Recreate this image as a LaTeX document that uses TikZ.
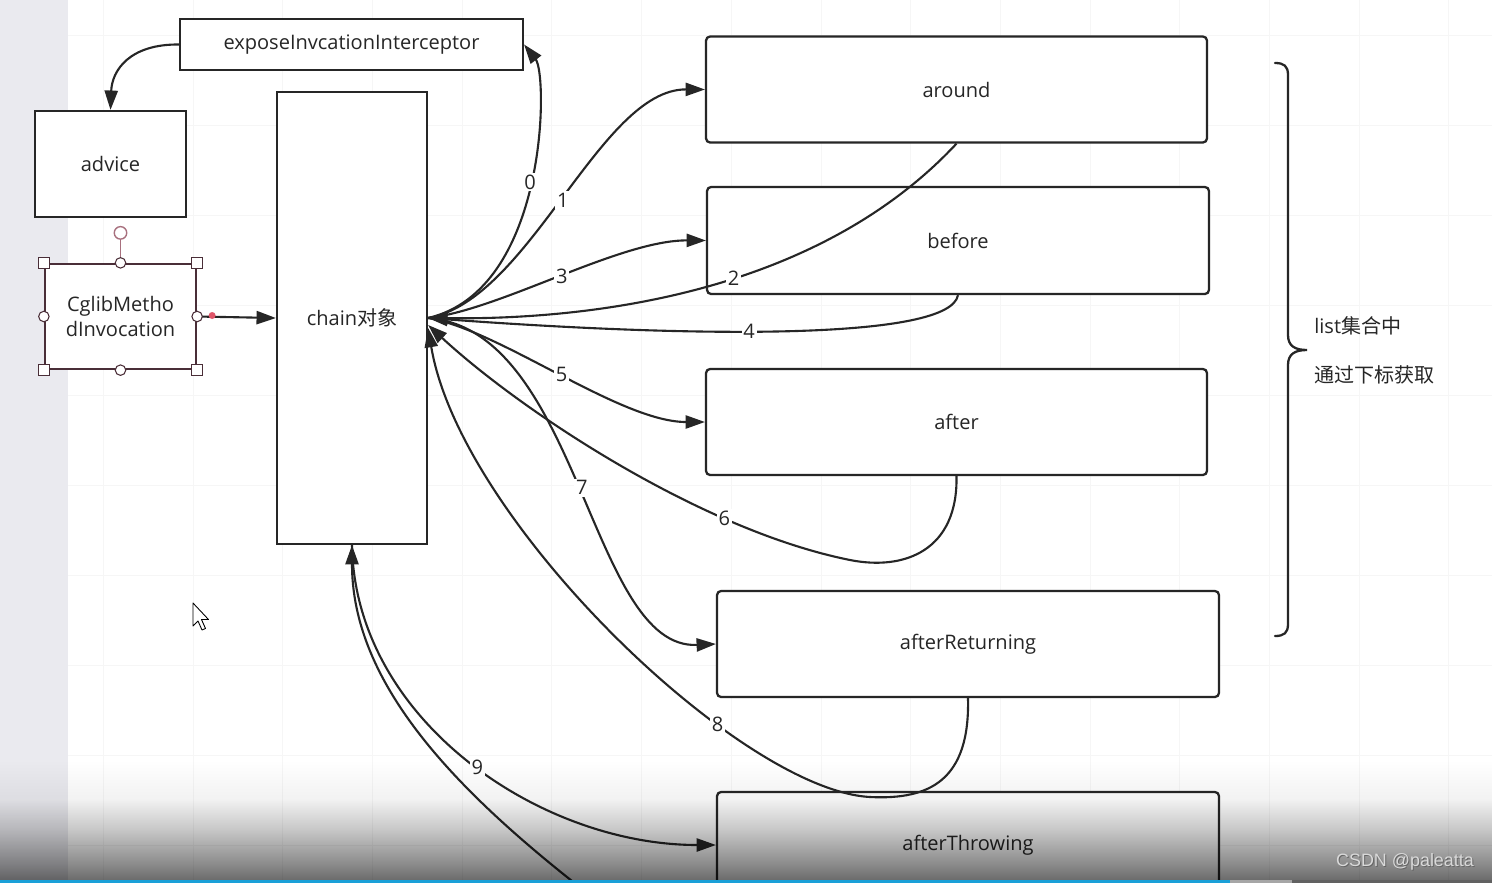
\documentclass[tikz,border=0pt]{standalone}
\usepackage{fontspec}
\setmainfont{Open Sans}
\newfontfamily\cjk{Noto Sans CJK SC}
\newfontfamily\wmfont{Liberation Sans}
\usetikzlibrary{arrows.meta,calc}

\definecolor{ink}{HTML}{262626}
\definecolor{selcol}{HTML}{4A2E38}
\definecolor{rotcol}{HTML}{A8707E}
\definecolor{dotcol}{HTML}{E0566A}
\definecolor{stripcol}{HTML}{EAEAEF}
\definecolor{gridcol}{HTML}{F6F6F6}
\definecolor{barblue}{HTML}{1AA0D8}

% vertical darkening profile (0bp = bottom); the inner 25--75bp band spans the path
\pgfdeclareverticalshading{screenshade}{100bp}{%
  color(0bp)=(black!58!white); color(25bp)=(black!58!white);
  color(31bp)=(black!45!white); color(43bp)=(black!22!white);
  color(54bp)=(black!5!white); color(68bp)=(white); color(100bp)=(white)}

\begin{document}
\begin{tikzpicture}[x=0.02cm,y=-0.02cm,
  font=\fontsize{11.4}{13.7}\selectfont,
  box/.style={draw=ink, line width=1.3pt, fill=white, text=ink, inner sep=0pt},
  rbox/.style={box, rounded corners=0.08cm},
  arr/.style={draw=ink, line width=1.2pt, -{Triangle[length=11pt,width=7.5pt]}},
  num/.style={fill=white, text=ink, inner sep=1pt},
  hsq/.style={draw=selcol, fill=white, line width=0.6pt, minimum size=0.21cm, inner sep=0pt},
  hci/.style={circle, draw=selcol, fill=white, line width=0.6pt, minimum size=0.21cm, inner sep=0pt},
]
\useasboundingbox (0,0) rectangle (1492,883);
\clip (0,0) rectangle (1492,883);

% canvas
\fill[white] (0,0) rectangle (1492,883);
\fill[stripcol] (0,0) rectangle (68,883);
\foreach \k in {0,...,15} \draw[gridcol, line width=0.4pt] ({103.3+\k*89.7},0) -- ++(0,883);
\foreach \k in {0,...,9} \draw[gridcol, line width=0.4pt] (68,{35+\k*90}) -- (1492,{35+\k*90});

% boxes
\node[box, minimum width=6.86cm, minimum height=1.02cm] (exp) at (351.5,44.5) {exposeInvcationInterceptor};
\node[box, minimum width=3.02cm, minimum height=2.12cm] (advice) at (110.5,164) {advice};
\node[box, draw=selcol, minimum width=3.02cm, minimum height=2.1cm, align=center] (cglib) at (120.5,316.5) {CglibMetho\\dInvocation};
\node[box, minimum width=3.0cm, minimum height=9.04cm] (chain) at (352,318) {chain{\cjk 对象}};
\node[rbox, minimum width=10.02cm, minimum height=2.12cm] (around) at (956.5,89.5) {around};
\node[rbox, minimum width=10.04cm, minimum height=2.14cm] (before) at (958,240.5) {before};
\node[rbox, minimum width=10.02cm, minimum height=2.12cm] (after) at (956.5,422) {after};
\node[rbox, minimum width=10.04cm, minimum height=2.12cm] (aret) at (968,644) {afterReturning};
\node[rbox, minimum width=10.04cm, minimum height=2.12cm] (athr) at (968,845) {afterThrowing};

% helper coordinates
\coordinate (c6) at ($(chain.east)+(0,7)$);
\coordinate (c8) at ($(chain.east)+(0,10)$);
\coordinate (offT) at (650,940);

% connectors
\draw[arr] (exp.west) .. controls (130,44) and (112,70) .. (advice.north);
\draw[arr] (cglib.east) -- (chain.west);
\draw[arr] (chain.east) .. controls (548,290) and (548,75) .. (exp.east) node[num,pos=0.5]{0};
\draw[arr] (chain.east) .. controls (530,300) and (600,89) .. (around.west) node[num,pos=0.49]{1};
\draw[arr] (around.south) .. controls (820,290) and (600,320) .. (chain.east) node[num,pos=0.45]{2};
\draw[arr] (chain.east) .. controls (500,310) and (620,240) .. (before.west) node[num,pos=0.5]{3};
\draw[arr] (before.south) .. controls (950,340) and (700,338) .. (chain.east) node[num,pos=0.57]{4};
\draw[arr] (chain.east) .. controls (500,330) and (620,422) .. (after.west) node[num,pos=0.5]{5};
\draw[arr] (after.south) .. controls (958,550) and (905,571) .. (850,560)
  .. controls (700,530) and (520,410) .. (c6) node[num,pos=0.27]{6};
\draw[arr] (chain.east) .. controls (580,330) and (590,650) .. (aret.west) node[num,pos=0.5]{7};
\draw[arr] (aret.south) .. controls (970,780) and (930,800) .. (870,797)
  .. controls (740,790) and (460,520) .. (c8) node[num,pos=0.31]{8};
\draw[arr] (chain.south) .. controls (355,720) and (540,845) .. (athr.west) node[num,pos=0.52]{9};
\draw[arr] (offT) .. controls (485,820) and (352,700) .. (chain.south);

% selection handles
\node[circle, draw=rotcol, fill=white, line width=0.8pt, minimum size=0.25cm, inner sep=0pt] (hrot) at ($(cglib.north)+(0,-30)$) {};
\draw[rotcol, line width=0.8pt] (hrot.south) -- (cglib.north);
\node[hsq] (hnw) at (cglib.north west) {};
\node[hsq] (hne) at (cglib.north east) {};
\node[hsq] (hsw) at (cglib.south west) {};
\node[hsq] (hse) at (cglib.south east) {};
\node[hci] (hn) at (cglib.north) {};
\node[hci] (hs) at (cglib.south) {};
\node[hci] (hw) at (cglib.west) {};
\node[hci] (he) at (cglib.east) {};
\node[circle, fill=dotcol, minimum size=0.14cm, inner sep=0pt] (hdot) at ($(cglib.east)+(15,-1)$) {};

% brace and side note
\draw[ink, line width=1.3pt, line cap=round]
  (1275,63) .. controls (1284,63) and (1288,66) .. (1288,75) -- (1288,335)
  .. controls (1288,346) and (1295,350) .. (1307,350)
  .. controls (1295,350) and (1288,354) .. (1288,365) -- (1288,624)
  .. controls (1288,633) and (1284,636) .. (1275,636);
\node[anchor=west, text=ink, inner sep=0pt] (lst) at (1314,326) {list{\cjk 集合中}};
\node[anchor=west, text=ink, inner sep=0pt] (idx) at (1314,375) {{\cjk 通过下标获取}};

% pointer
\draw[black, fill=white, line width=0.5pt, line join=round]
  (193,603) -- (193,626) -- (198,621) -- (202,630) -- (205.5,628.5) -- (201.5,619.5) -- (208.5,619.5) -- cycle;

% darkening at the bottom edge
\begin{scope}[blend mode=multiply]
  \shade[shading=screenshade] (0,740) rectangle (1492,880);
\end{scope}

% progress bar
\fill[barblue] (0,880) rectangle (1230,883);
\fill[black!35] (1230,880) rectangle (1292,883);
\fill[black!62] (1292,880) rectangle (1492,883);

% watermark
\node[text=black!60, font=\wmfont\fontsize{10.2}{12}\selectfont] (markshadow) at (1406,863) {CSDN @paleatta};
\node[text=black!15, font=\wmfont\fontsize{10.2}{12}\selectfont] (mark) at (1405,862) {CSDN @paleatta};
\end{tikzpicture}
\end{document}
